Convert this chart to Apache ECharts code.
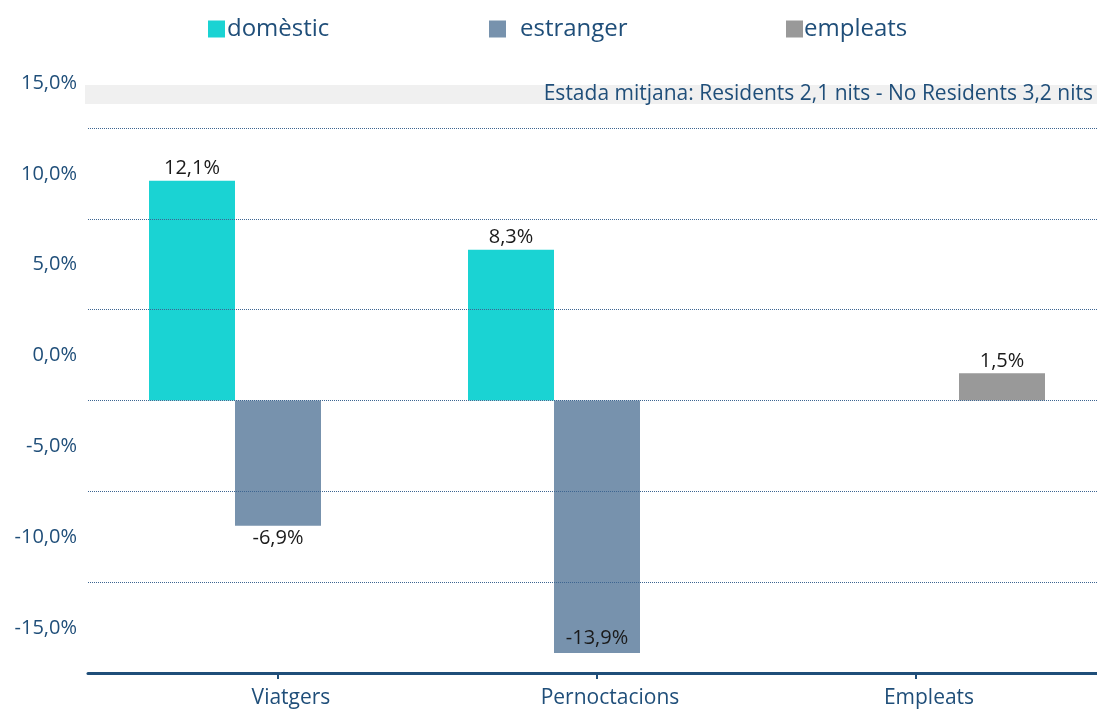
<!DOCTYPE html>
<html>
<head>
    <meta charset="utf-8">
    <title>Viatgers, pernoctacions i empleats</title>
    <script src="https://cdn.jsdelivr.net/npm/echarts@6/dist/echarts.min.js"></script>
    <style>
        html, body { margin: 0; padding: 0; background: #fff; }
        #chart { width: 1097px; height: 709px; }
    </style>
</head>
<body>
    <div id="chart"></div>
    <script>
        // dades
        var categories = ['Viatgers', 'Pernoctacions', 'Empleats'];
        var domestic = [12.1, 8.3, null];
        var estranger = [-6.9, -13.9, null];
        var empleats = [null, null, 1.5];
        var yTicks = [-15, -10, -5, 0, 5, 10, 15];
        var nota = 'Estada mitjana: Residents 2,1 nits - No Residents 3,2 nits';

        var blau = '#1f4e79';
        var font = 'Open Sans';

        function pct(v) {
            return v.toFixed(1).replace('.', ',') + '%';
        }

        // etiquetes: positives a dalt, negatives a baix (la més llarga dins la barra)
        function items(arr) {
            return arr.map(function (v) {
                if (v === null) return '-';
                if (v >= 0) return { value: v, label: { position: 'top' } };
                if (v < -12) return { value: v, label: { position: 'insideBottom', distance: 5 } };
                return { value: v, label: { position: 'bottom' } };
            });
        }

        var barLabel = {
            show: true,
            color: '#1a1a1a',
            fontFamily: font,
            fontSize: 20,
            distance: 2,
            formatter: function (p) { return pct(p.value); }
        };

        function legend(name, left, gap) {
            return {
                data: [name],
                left: left,
                top: 17,
                itemWidth: 17,
                itemHeight: 17,
                itemGap: 0,
                icon: 'rect',
                padding: 0,
                selectedMode: false,
                textStyle: { color: blau, fontFamily: font, fontSize: 24, padding: [0, 0, 0, gap] }
            };
        }

        var chart = echarts.init(document.getElementById('chart'));
        var option = {
            animation: false,
            color: ['#1ad3d3', '#7792ad', '#999999'],
            legend: [
                legend('domèstic', 208, -3),
                legend('estranger', 489, 9),
                legend('empleats', 786, -4)
            ],
            graphic: [
                {
                    type: 'rect',
                    left: 85, top: 85, z: -1,
                    shape: { width: 1012, height: 19 },
                    style: { fill: '#f0f0f0' }
                },
                {
                    type: 'text',
                    right: 4, top: 84, z: 1,
                    style: { text: nota, fill: blau, font: '21px "Open Sans"' }
                }
            ],
            grid: [
                { left: 88, right: 0, top: 128, bottom: 36 },
                { left: 118.5, right: 21.5, top: 128, bottom: 36 }
            ],
            xAxis: [
                {
                    type: 'category',
                    gridIndex: 0,
                    data: [''],
                    axisLine: { onZero: false, lineStyle: { color: blau, width: 3 } },
                    axisTick: { show: false },
                    axisLabel: { show: false },
                    z: 6
                },
                {
                    type: 'category',
                    gridIndex: 1,
                    data: categories,
                    axisLine: { show: false, onZero: false },
                    axisTick: { show: true, alignWithLabel: true, length: 6, lineStyle: { color: blau, width: 2 } },
                    axisLabel: { color: blau, fontFamily: font, fontSize: 21, margin: 15, padding: [0, 0, 0, 26] }
                }
            ],
            yAxis: [
                {
                    type: 'value',
                    gridIndex: 0,
                    min: yTicks[0],
                    max: yTicks[yTicks.length - 1],
                    interval: 5,
                    z: 5,
                    axisLine: { show: false },
                    axisTick: { show: false },
                    splitLine: { show: true, lineStyle: { color: '#3d6591', type: 'dotted', width: 1 } },
                    axisLabel: {
                        color: blau, fontFamily: font, fontSize: 20, margin: 11,
                        lineHeight: 90, verticalAlign: 'bottom',
                        formatter: function (v) { return pct(v); }
                    }
                },
                {
                    type: 'value',
                    gridIndex: 1,
                    min: yTicks[0],
                    max: yTicks[yTicks.length - 1],
                    interval: 5,
                    show: false,
                    splitLine: { show: false }
                }
            ],
            series: [
                {
                    name: 'domèstic', type: 'bar', xAxisIndex: 1, yAxisIndex: 1,
                    barWidth: 86, barGap: '0%', data: items(domestic), label: barLabel
                },
                {
                    name: 'estranger', type: 'bar', xAxisIndex: 1, yAxisIndex: 1,
                    barWidth: 86, barGap: '0%', data: items(estranger), label: barLabel
                },
                {
                    name: 'empleats', type: 'bar', xAxisIndex: 1, yAxisIndex: 1,
                    barWidth: 86, barGap: '0%', data: items(empleats), label: barLabel
                }
            ]
        };
        chart.setOption(option);
    </script>
</body>
</html>
